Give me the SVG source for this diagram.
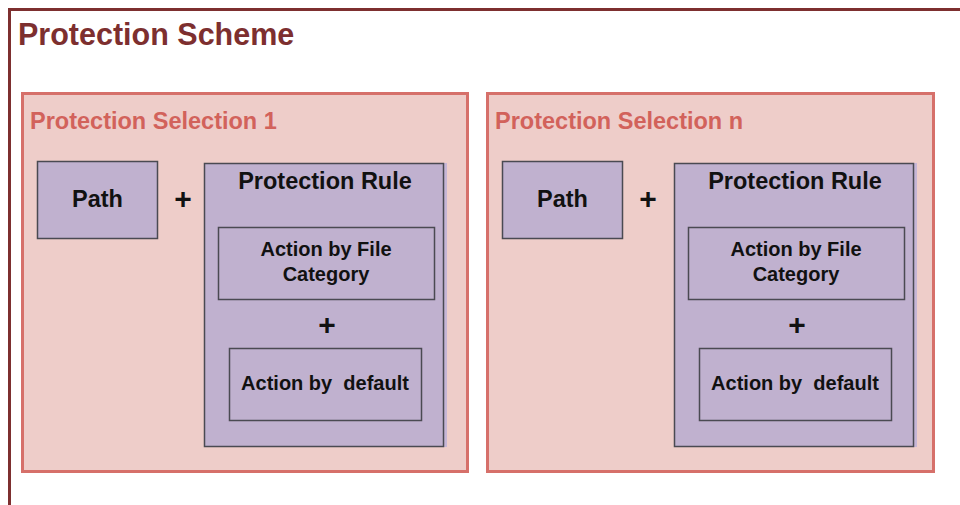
<svg xmlns="http://www.w3.org/2000/svg" width="960" height="505" viewBox="0 0 960 505">
  <style>
    text { font-family: "Liberation Sans", Arial, sans-serif; font-weight: bold; }
    .scheme { fill: #ffffff; stroke: #7d2f2f; stroke-width: 3; }
    .scheme-title { fill: #7d2f2f; font-size: 30.5px; }
    .selection { fill: #eecdc9; stroke: #d6706a; stroke-width: 3; }
    .selection-title { fill: #d2625b; font-size: 23.5px; }
    .node { fill: #c0b1cf; stroke: #4a4a52; stroke-width: 1.5; }
    .halo { fill: #c6b6d6; }
    .label { fill: #111111; text-anchor: middle; }
    .big { font-size: 23.5px; }
    .mid { font-size: 20px; }
    .plus { font-size: 30px; }
  </style>

  <!-- outer scheme frame -->
  <g id="scheme">
    <rect class="scheme" x="9.5" y="9.5" width="960" height="510"/>
    <text class="scheme-title" x="18" y="45">Protection Scheme</text>
  </g>

  <!-- selection 1 -->
  <g id="selection-1">
    <rect class="selection" x="22.5" y="93.5" width="445" height="378"/>
    <text class="selection-title" x="30" y="129">Protection Selection 1</text>
  </g>
  <g id="path-1">
    <rect class="node" x="37.5" y="161.5" width="120" height="77"/>
    <text class="label big" x="97.5" y="207">Path</text>
  </g>
  <g id="rule-1">
    <rect class="halo" x="204" y="163" width="243" height="284"/>
    <rect class="node" x="204.5" y="163.5" width="239" height="283"/>
    <text class="label big" x="325" y="189">Protection Rule</text>
  </g>
  <g id="file-category-1">
    <rect class="node" x="218.5" y="227.5" width="216" height="72"/>
    <text class="label mid" x="326" y="256">Action by File</text>
    <text class="label mid" x="326" y="281">Category</text>
  </g>
  <g id="default-1">
    <rect class="node" x="229.5" y="348.5" width="192" height="72"/>
    <text class="label mid" x="325" y="390" style="white-space:pre">Action by  default</text>
  </g>

  <!-- selection n -->
  <g id="selection-n">
    <rect class="selection" x="487.5" y="93.5" width="446" height="378"/>
    <text class="selection-title" x="495" y="129">Protection Selection n</text>
  </g>
  <g id="path-n">
    <rect class="node" x="502.5" y="161.5" width="120" height="77"/>
    <text class="label big" x="562.5" y="207">Path</text>
  </g>
  <g id="rule-n">
    <rect class="halo" x="674" y="163" width="243" height="284"/>
    <rect class="node" x="674.5" y="163.5" width="239" height="283"/>
    <text class="label big" x="795" y="189">Protection Rule</text>
  </g>
  <g id="file-category-n">
    <rect class="node" x="688.5" y="227.5" width="216" height="72"/>
    <text class="label mid" x="796" y="256">Action by File</text>
    <text class="label mid" x="796" y="281">Category</text>
  </g>
  <g id="default-n">
    <rect class="node" x="699.5" y="348.5" width="192" height="72"/>
    <text class="label mid" x="795" y="390" style="white-space:pre">Action by  default</text>
  </g>

  <!-- joining operators -->
  <g id="connectors">
    <text class="label plus" x="183" y="209">+</text>
    <text class="label plus" x="327" y="335">+</text>
    <text class="label plus" x="648" y="209">+</text>
    <text class="label plus" x="797" y="335">+</text>
  </g>
</svg>
